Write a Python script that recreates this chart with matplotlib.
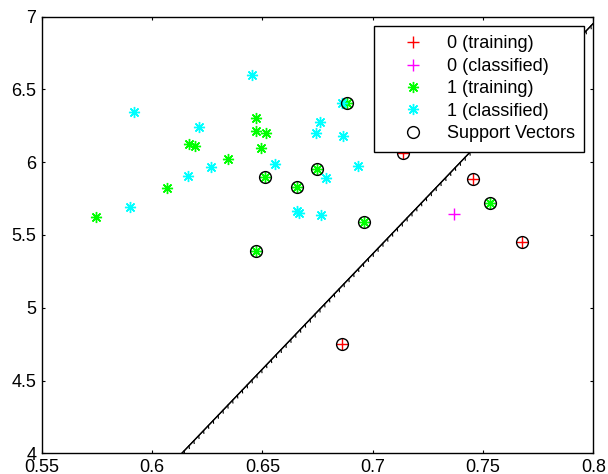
import matplotlib
matplotlib.use("Agg")
import matplotlib.pyplot as plt
import matplotlib.patheffects as pe

# ---- data ----
train0_x = [0.7139, 0.7456, 0.7678, 0.6862]
train0_y = [6.061, 5.883, 5.454, 4.749]

class0_x = [0.7369]
class0_y = [5.642]

train1_x = [0.5746, 0.6067, 0.6169, 0.6195, 0.6343, 0.6471, 0.6471, 0.6517,
            0.6493, 0.6512, 0.6658, 0.6746, 0.6885, 0.6961, 0.7532, 0.6471]
train1_y = [5.626, 5.821, 6.125, 6.111, 6.020, 6.306, 6.217, 6.199,
            6.096, 5.901, 5.832, 5.956, 6.405, 5.589, 5.718, 5.392]

class1_x = [0.6452, 0.6860, 0.6761, 0.6743, 0.6867, 0.6557, 0.6935, 0.6789,
            0.6658, 0.6668, 0.6766, 0.5918, 0.6213, 0.6164, 0.6266, 0.5900]
class1_y = [6.599, 6.409, 6.279, 6.199, 6.180, 5.988, 5.974, 5.890,
            5.667, 5.649, 5.635, 6.347, 6.244, 5.907, 5.969, 5.694]

sv_x = [0.6512, 0.6658, 0.6746, 0.6885, 0.6961, 0.7532, 0.6471,
        0.7139, 0.7456, 0.7678, 0.6862]
sv_y = [5.901, 5.832, 5.956, 6.405, 5.589, 5.718, 5.392,
        6.061, 5.883, 5.454, 4.749]

boundary_x = [0.6135, 0.8]
boundary_y = [4.0, 6.954]

x_ticks = [0.55, 0.6, 0.65, 0.7, 0.75, 0.8]
x_tick_labels = ["0.55", "0.6", "0.65", "0.7", "0.75", "0.8"]
y_ticks = [4, 4.5, 5, 5.5, 6, 6.5, 7]
y_tick_labels = ["4", "4.5", "5", "5.5", "6", "6.5", "7"]

labels = ["0 (training)", "0 (classified)", "1 (training)", "1 (classified)",
          "Support Vectors"]

# ---- figure ----
plt.rcParams['font.family'] = ['Liberation Sans', 'DejaVu Sans']
fig = plt.figure(figsize=(6.08, 4.74), dpi=100)
ax = fig.add_axes([41.7 / 608, 1 - 453.3 / 474, 551.6 / 608, 436.6 / 474])

ax.plot(train0_x, train0_y, ls='none', marker='+', ms=8, mew=1.0,
        color='#ff0000', label=labels[0])
ax.plot(class0_x, class0_y, ls='none', marker='+', ms=8, mew=1.0,
        color='#ff00ff', label=labels[1])
ax.plot(train1_x, train1_y, ls='none', marker=(8, 2, 0), ms=8, mew=1.0,
        color='#00ff00', label=labels[2])
ax.plot(class1_x, class1_y, ls='none', marker=(8, 2, 0), ms=8, mew=1.0,
        color='#00ffff', label=labels[3])
ax.plot(sv_x, sv_y, ls='none', marker='o', ms=8.5, mew=1.0, mfc='none',
        mec='black', label=labels[4])

ax.plot(boundary_x, boundary_y, color='black', lw=0.9,
        path_effects=[pe.withTickedStroke(spacing=5, angle=-130, length=0.4,
                                          linewidth=0.8),
                      pe.Normal()])

ax.set_xlim(0.55, 0.8)
ax.set_ylim(4, 7)
ax.set_xticks(x_ticks)
ax.set_xticklabels(x_tick_labels)
ax.set_yticks(y_ticks)
ax.set_yticklabels(y_tick_labels)
ax.tick_params(direction='in', top=True, right=True, length=2.5, width=0.8,
               labelsize=13, colors='black')
ax.tick_params(axis='x', pad=4)
ax.tick_params(axis='y', pad=4)
for s in ax.spines.values():
    s.set_linewidth(1.0)
    s.set_color('black')

leg = ax.legend(loc='upper right', fontsize=13, frameon=True, fancybox=False,
                edgecolor='black', framealpha=1, borderaxespad=0.52,
                borderpad=0.52, handlelength=3.28, handletextpad=0.24,
                labelspacing=0.30, numpoints=1)
leg.get_frame().set_linewidth(1.0)

fig.savefig("out.png", dpi=100)
